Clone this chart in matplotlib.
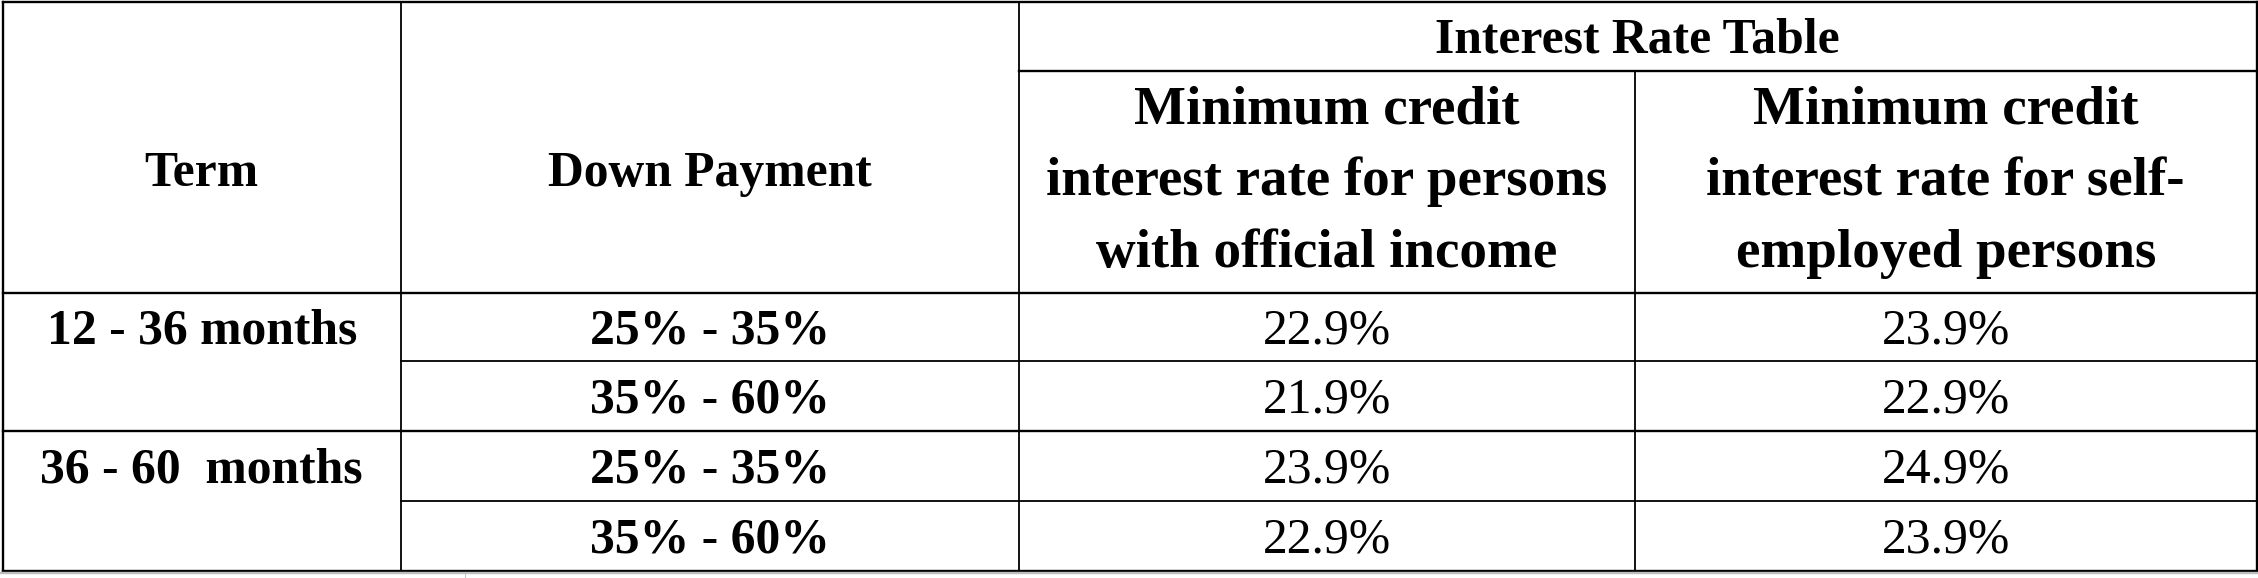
import matplotlib
matplotlib.use('Agg')
import matplotlib.pyplot as plt

# Dati della tabella
terms = ['12 - 36 months', '36 - 60  months']
down_payments = ['25% - 35%', '35% - 60%', '25% - 35%', '35% - 60%']
rate_official = [22.9, 21.9, 23.9, 22.9]
rate_self = [23.9, 22.9, 24.9, 23.9]

title = 'Interest Rate Table'
head_term = 'Term'
head_down = 'Down Payment'
head_official = ['Minimum credit', 'interest rate for persons', 'with official income']
head_self = ['Minimum credit', 'interest rate for self-', 'employed persons']

# Layout in pixel (origine in alto a sinistra)
W, H = 2258, 578
cols = [3, 400.5, 1019, 1635, 2256.5]
y_top, y_title, y_head = 2, 70.5, 293
rows = [293, 361, 431, 501, 571]

fig = plt.figure(figsize=(W / 100, H / 100), dpi=100)
ax = fig.add_axes([0, 0, 1, 1])
ax.set_xlim(0, W)
ax.set_ylim(H, 0)
ax.axis('off')

thick = 1.7
thin = 1.3

def hline(y, x0, x1, lw):
    ax.plot([x0, x1], [y, y], color='black', lw=lw, solid_capstyle='projecting')

def vline(x, y0, y1, lw):
    ax.plot([x, x], [y0, y1], color='black', lw=lw, solid_capstyle='projecting')

# Bordi esterni
hline(y_top, cols[0], cols[-1], thick)
hline(rows[-1], cols[0], cols[-1], thick)
vline(cols[0], y_top, rows[-1], thick)
vline(cols[-1], y_top, rows[-1], thick)

# Linee interne
vline(cols[1], y_top, rows[-1], thin)
vline(cols[2], y_top, rows[-1], thin)
vline(cols[3], y_title, rows[-1], thin)
hline(y_title, cols[2], cols[-1], thick)
hline(y_head, cols[0], cols[-1], thick)
hline(rows[2], cols[0], cols[-1], thick)
hline(rows[1], cols[1], cols[-1], thin)
hline(rows[3], cols[1], cols[-1], thin)

# Striscia grigia in basso
ax.plot([0, W], [573.4, 573.4], color='#bdbdbd', lw=1.7, solid_capstyle='butt')
ax.plot([465, 465], [574, 577.5], color='#c8c8c8', lw=0.8)

font = 'Liberation Serif'
fs = 35.7
fs_sub = 39.6
cap = 16.4  # mezza altezza maiuscole in pixel

def cx(i):
    return (cols[i] + cols[i + 1]) / 2

# Intestazioni
ax.text((cols[2] + cols[4]) / 2, (y_top + y_title) / 2 + cap, title, ha='center', va='baseline',
        fontsize=fs, fontweight='bold', family=font)
ax.text(cx(0), 186, head_term, ha='center', va='baseline', fontsize=fs, fontweight='bold', family=font)
ax.text(cx(1), 186, head_down, ha='center', va='baseline', fontsize=fs, fontweight='bold', family=font)
for j, base in enumerate([123, 195, 267]):
    ax.text(cx(2), base, head_official[j], ha='center', va='baseline',
            fontsize=fs_sub, fontweight='bold', family=font)
    ax.text(cx(3), base, head_self[j], ha='center', va='baseline',
            fontsize=fs_sub, fontweight='bold', family=font)

# Righe dati
for i in range(4):
    base = (rows[i] + rows[i + 1]) / 2 + cap
    if i % 2 == 0:
        ax.text(cx(0), base, terms[i // 2], ha='center', va='baseline',
                fontsize=fs, fontweight='bold', family=font)
    ax.text(cx(1), base, down_payments[i], ha='center', va='baseline',
            fontsize=fs, fontweight='bold', family=font)
    ax.text(cx(2), base, f'{rate_official[i]:.1f}%', ha='center', va='baseline',
            fontsize=fs, family=font)
    ax.text(cx(3), base, f'{rate_self[i]:.1f}%', ha='center', va='baseline',
            fontsize=fs, family=font)

fig.savefig('out.png', dpi=100, facecolor='white')
